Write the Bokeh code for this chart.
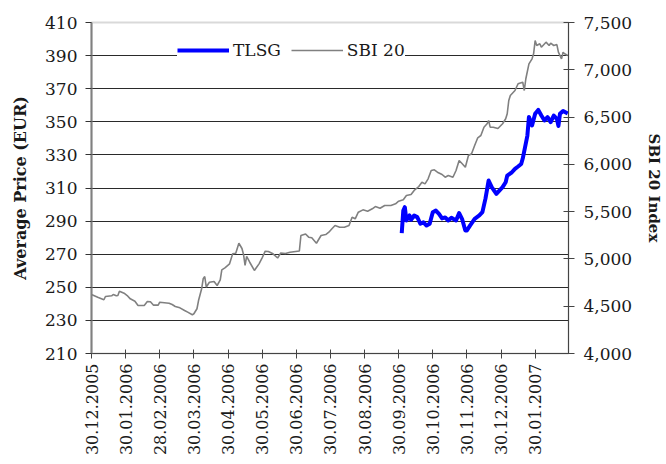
from bokeh.plotting import figure
from bokeh.models import (Range1d, LinearAxis, FixedTicker, NumeralTickFormatter,
                          Legend, LegendItem)
from bokeh.embed import file_html
from bokeh.resources import INLINE

# x axis: trading-day index, labelled with dates every 22 trading days
x_tick_pos = [0, 22, 44, 66, 88, 110, 132, 154, 176, 198, 220, 242, 264, 286]
x_tick_labels = ["30.12.2005", "30.01.2006", "28.02.2006", "30.03.2006", "30.04.2006",
                 "30.05.2006", "30.06.2006", "30.07.2006", "30.08.2006", "30.09.2006",
                 "30.10.2006", "30.11.2006", "30.12.2006", "30.01.2007"]
left_ticks = [210, 230, 250, 270, 290, 310, 330, 350, 370, 390, 410]
right_ticks = [4000, 4500, 5000, 5500, 6000, 6500, 7000, 7500]

sbi_day = [0, 4, 8, 9, 13, 14, 16, 17, 18, 21, 23, 25, 28, 30, 34, 36, 38, 40, 43, 44,
           50, 52, 54, 57, 60, 62, 65, 66, 68, 69, 71, 72, 73, 74, 76, 79, 81, 83, 84, 86,
           89, 91, 93, 95, 97, 98, 99, 100, 102, 105, 108, 110, 112, 114, 117, 120, 122, 125, 128, 134,
           135, 138, 140, 142, 145, 148, 151, 153, 155, 157, 160, 163, 166, 168, 170, 172, 175, 178, 181, 183,
           186, 189, 193, 196, 198, 201, 203, 206, 208, 211, 213, 215, 217, 219, 221, 223, 226, 228, 230, 233,
           235, 237, 239, 241, 243, 245, 247, 249, 251, 253, 255, 256, 257, 259, 262, 265, 267, 268, 269, 270,
           273, 275, 278, 279, 280, 282, 284, 285, 286, 287, 289, 290, 293, 295, 296, 298, 300, 301, 303, 304,
           305, 307]
sbi_val = [4624, 4595, 4568, 4603, 4610, 4624, 4610, 4613, 4659, 4638, 4613, 4578, 4553, 4508, 4508, 4550, 4547, 4511, 4511, 4542,
           4532, 4518, 4497, 4483, 4455, 4437, 4409, 4420, 4473, 4560, 4684, 4790, 4814, 4703, 4754, 4761, 4719, 4779, 4885, 4906,
           4948, 5054, 5061, 5166, 5110, 5047, 4931, 5026, 4965, 4878, 4948, 5012, 5082, 5079, 5054, 5010, 5063, 5057, 5071, 5084,
           5248, 5264, 5230, 5223, 5166, 5248, 5258, 5283, 5319, 5353, 5335, 5335, 5353, 5441, 5424, 5494, 5519, 5505, 5530, 5554,
           5536, 5565, 5565, 5583, 5610, 5625, 5671, 5681, 5724, 5766, 5811, 5794, 5847, 5935, 5942, 5917, 5893, 5864, 5882, 5864,
           5935, 6041, 6006, 5970, 6094, 6112, 6199, 6281, 6305, 6393, 6429, 6464, 6393, 6393, 6379, 6429, 6482, 6535, 6675, 6728,
           6781, 6852, 6869, 6781, 6905, 7063, 7116, 7169, 7310, 7257, 7275, 7239, 7292, 7257, 7281, 7257, 7267, 7186, 7116, 7186,
           7169, 7151]

tlsg_day = [200, 201, 202, 203, 205, 206, 208, 210, 212, 214, 216, 218, 220, 222, 224, 226, 228, 230, 232, 235,
            237, 239, 241, 242, 244, 247, 250, 252, 254, 256, 258, 261, 265, 267, 268, 271, 273, 275, 277, 278,
            281, 282, 284, 286, 288, 290, 292, 294, 296, 298, 300, 301, 302, 304, 307]
tlsg_val = [282.7, 296.4, 298.4, 290.4, 293.4, 290.8, 293.4, 292.4, 288.4, 289.3, 287.3, 288.4, 295.4, 296.4, 294.4, 291.6, 292.2, 290.4, 292.0, 290.4,
            294.8, 291.0, 284.3, 284.3, 287.3, 291.4, 293.4, 295.4, 303.7, 314.5, 310.5, 306.5, 310.5, 313.5, 317.5, 319.5, 321.6, 323.0, 324.5, 327.8,
            341.7, 352.9, 347.8, 354.8, 357.2, 353.8, 350.8, 352.8, 349.8, 353.8, 351.8, 347.5, 354.8, 356.5, 355.0]

FONT = "DejaVu Serif"
TXT = "#1a1a1a"

p = figure(frame_width=477, frame_height=331,
           x_range=Range1d(0, 307.5), y_range=Range1d(210, 410),
           output_backend="svg", toolbar_location=None,
           min_border_left=91, min_border_right=98, min_border_top=22, min_border_bottom=111,
           background_fill_color="white", border_fill_color="white")
p.extra_y_ranges = {"sbi": Range1d(4000, 7500)}

p.outline_line_color = "#d9d9d9"
p.outline_line_width = 2

# grid
p.xgrid.visible = False
p.ygrid.ticker = FixedTicker(ticks=left_ticks[1:-1])
p.ygrid.grid_line_color = "#2a2a2a"
p.ygrid.grid_line_width = 1

# left axis
ya = p.yaxis[0]
ya.ticker = FixedTicker(ticks=left_ticks)
ya.axis_label = "Average Price (EUR)"
ya.axis_label_text_font = FONT
ya.axis_label_text_font_style = "bold"
ya.axis_label_text_font_size = "16px"
ya.axis_label_text_color = TXT
ya.axis_label_standoff = 12
ya.major_label_text_font = FONT
ya.major_label_text_font_size = "17px"
ya.major_label_text_color = TXT
ya.major_label_standoff = 8
ya.major_tick_out = 6
ya.major_tick_in = 0
ya.minor_tick_out = 0
ya.minor_tick_in = 0
ya.axis_line_color = "#808080"
ya.axis_line_width = 2
ya.major_tick_line_color = "#333333"

# bottom axis
xa = p.xaxis[0]
xa.ticker = FixedTicker(ticks=x_tick_pos)
xa.major_label_overrides = {pos: lab for pos, lab in zip(x_tick_pos, x_tick_labels)}
xa.major_label_orientation = 1.5707963
xa.major_label_text_font = FONT
xa.major_label_text_font_size = "16px"
xa.major_label_text_color = TXT
xa.major_label_standoff = 5
xa.major_tick_out = 5
xa.major_tick_in = 4
xa.minor_tick_out = 0
xa.minor_tick_in = 0
xa.axis_line_color = "#444444"
xa.major_tick_line_color = "#444444"

# right axis
ra = LinearAxis(y_range_name="sbi", ticker=FixedTicker(ticks=right_ticks),
                formatter=NumeralTickFormatter(format="0,0"),
                axis_label="SBI 20 Index")
ra.axis_label_text_font = FONT
ra.axis_label_text_font_style = "bold"
ra.axis_label_text_font_size = "15px"
ra.axis_label_text_color = TXT
ra.axis_label_standoff = 10
ra.major_label_text_font = FONT
ra.major_label_text_font_size = "17px"
ra.major_label_text_color = TXT
ra.major_label_standoff = 9
ra.major_tick_out = 6
ra.major_tick_in = 5
ra.minor_tick_out = 0
ra.minor_tick_in = 0
ra.axis_line_color = "#444444"
ra.major_tick_line_color = "#444444"
p.add_layout(ra, "right")

# series
r_sbi = p.line(sbi_day, sbi_val, y_range_name="sbi", line_color="#808080", line_width=1.6)
r_tlsg = p.line(tlsg_day, tlsg_val, line_color="#0000FF", line_width=4, line_join="round")

legend = Legend(items=[LegendItem(label="TLSG", renderers=[r_tlsg]),
                       LegendItem(label="SBI 20", renderers=[r_sbi])],
                location=(86, 293), orientation="horizontal",
                label_text_font=FONT, label_text_font_size="17px", label_text_color=TXT,
                glyph_width=52, glyph_height=20, label_standoff=4, spacing=10,
                padding=6, margin=0, border_line_color=None,
                background_fill_color="white", background_fill_alpha=1.0)
p.add_layout(legend, "center")

open("out.html", "w").write(file_html(p, INLINE))
